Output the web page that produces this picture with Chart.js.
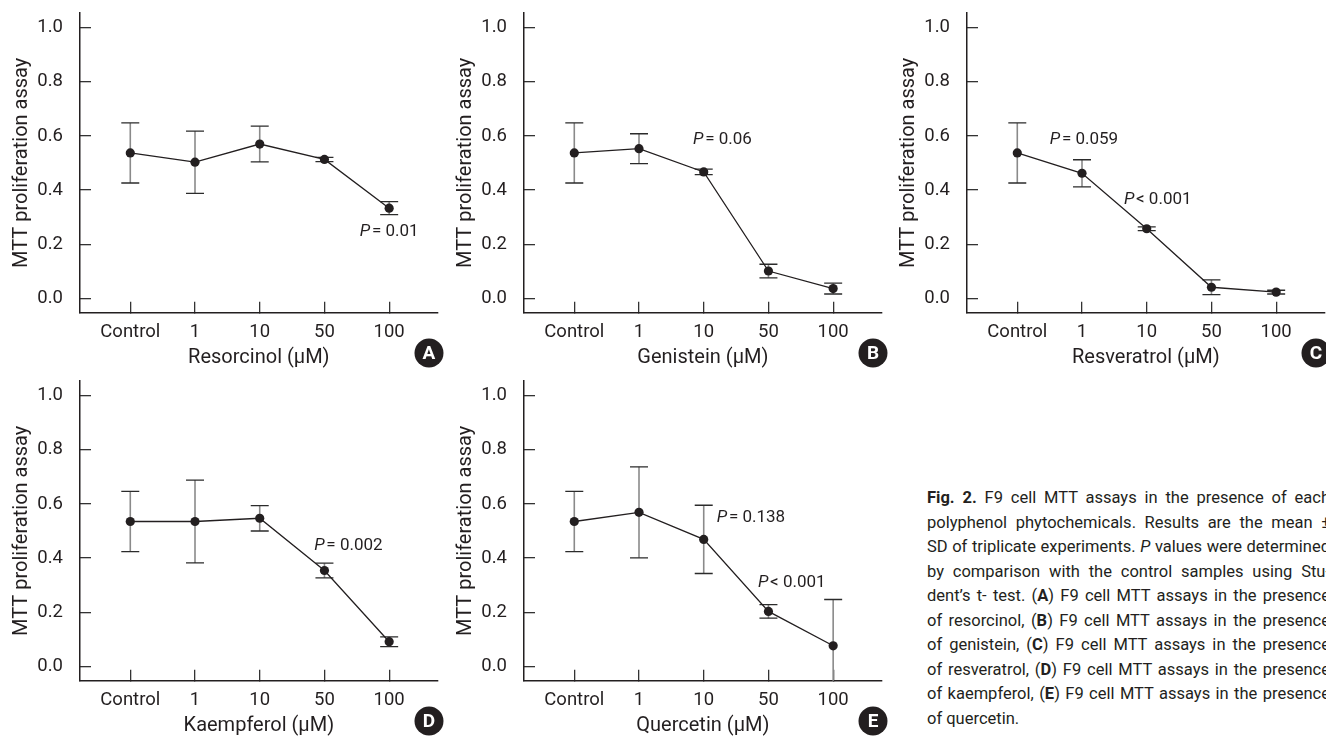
<!DOCTYPE html>
<html>
<head>
<meta charset="utf-8">
<script src="https://cdn.jsdelivr.net/npm/chart.js@4.4.0/dist/chart.umd.min.js"></script>
<style>
  html, body { margin: 0; padding: 0; background: #ffffff; overflow: hidden; width: 1326px; height: 738px; }
  .panel { position: absolute; }
  #caption { position: absolute; left: 927px; top: 486px; width: 403px; font-family: Roboto, sans-serif; font-size: 16.5px; line-height: 24.5px; color: #231f20; }
  #caption .ln { display: block; white-space: nowrap; text-align: justify; text-align-last: justify; }
  #caption .last { text-align: left; text-align-last: left; }
</style>
</head>
<body>
<div id="charts"></div>
<div id="caption">
  <span class="ln"><b>Fig. 2.</b> F9 cell MTT assays in the presence of each</span>
  <span class="ln">polyphenol phytochemicals. Results are the mean ±</span>
  <span class="ln">SD of triplicate experiments. <i>P</i> values were determined</span>
  <span class="ln">by comparison with the control samples using Stu-</span>
  <span class="ln">dent’s t- test. (<b>A</b>) F9 cell MTT assays in the presence</span>
  <span class="ln">of resorcinol, (<b>B</b>) F9 cell MTT assays in the presence</span>
  <span class="ln">of genistein, (<b>C</b>) F9 cell MTT assays in the presence</span>
  <span class="ln">of resveratrol, (<b>D</b>) F9 cell MTT assays in the presence</span>
  <span class="ln">of kaempferol, (<b>E</b>) F9 cell MTT assays in the presence</span>
  <span class="ln last">of quercetin.</span>
</div>
<script>
// ---------------- data ----------------
const categories = ['Control', '1', '10', '50', '100'];
const yTickValues = [0.0, 0.2, 0.4, 0.6, 0.8, 1.0];
const yAxisTitle = 'MTT proliferation assay';

const resorcinolMean  = [0.537, 0.503, 0.570, 0.513, 0.333];
const resorcinolSD    = [0.111, 0.115, 0.066, 0.008, 0.024];
const genisteinMean   = [0.537, 0.553, 0.467, 0.101, 0.036];
const genisteinSD     = [0.111, 0.055, 0.010, 0.025, 0.020];
const resveratrolMean = [0.537, 0.462, 0.257, 0.041, 0.023];
const resveratrolSD   = [0.111, 0.050, 0.007, 0.027, 0.007];
const kaempferolMean  = [0.535, 0.535, 0.547, 0.354, 0.091];
const kaempferolSD    = [0.111, 0.153, 0.047, 0.027, 0.018];
const quercetinMean   = [0.535, 0.569, 0.469, 0.203, 0.076];
const quercetinSD     = [0.111, 0.168, 0.126, 0.025, 0.171];

const resorcinolNotes  = [{ rel: '=', p: '0.01' }];
const genisteinNotes   = [{ rel: '=', p: '0.06' }];
const resveratrolNotes = [{ rel: '=', p: '0.059' }, { rel: '<', p: '0.001' }];
const kaempferolNotes  = [{ rel: '=', p: '0.002' }];
const quercetinNotes   = [{ rel: '=', p: '0.138' }, { rel: '<', p: '0.001' }];

// ---------------- layout ----------------
const INK = '#231f20';
const FONT = 'Roboto, "Liberation Sans", sans-serif';
const notePlace = {
  A: [[4.0, 0.245]],
  B: [[2.29, 0.584]],
  C: [[1.03, 0.584], [2.17, 0.366]],
  D: [[3.37, 0.446]],
  E: [[2.73, 0.55], [3.36, 0.31]]
};
const panels = [
  { badge: 'A', title: 'Resorcinol (μM)',  mean: resorcinolMean,  sd: resorcinolSD,  notes: resorcinolNotes,  left: 0,   top: 0 },
  { badge: 'B', title: 'Genistein (μM)',   mean: genisteinMean,   sd: genisteinSD,   notes: genisteinNotes,   left: 444, top: 0 },
  { badge: 'C', title: 'Resveratrol (μM)', mean: resveratrolMean, sd: resveratrolSD, notes: resveratrolNotes, left: 887, top: 0 },
  { badge: 'D', title: 'Kaempferol (μM)',  mean: kaempferolMean,  sd: kaempferolSD,  notes: kaempferolNotes,  left: 0,   top: 368 },
  { badge: 'E', title: 'Quercetin (μM)',   mean: quercetinMean,   sd: quercetinSD,   notes: quercetinNotes,   left: 444, top: 368 }
];

const W = 444, H = 370;

function zeroPad(s) { s.paddingTop = 0; s.paddingBottom = 0; s.paddingLeft = 0; s.paddingRight = 0; }

const errorBars = {
  id: 'errorBars',
  beforeDatasetsDraw(chart) {
    const { ctx, chartArea: a, scales: { x, y } } = chart;
    const ds = chart.data.datasets[0];
    ctx.save();
    ctx.beginPath();
    ctx.rect(a.left, a.top, a.right - a.left, a.bottom - a.top);
    ctx.clip();
    ds.data.forEach((pt, i) => {
      const s = ds.sd[i];
      const px = x.getPixelForValue(pt.x);
      const yt = y.getPixelForValue(pt.y + s);
      const yb = y.getPixelForValue(pt.y - s);
      ctx.strokeStyle = '#8a8a8a';
      ctx.lineWidth = 1.6;
      ctx.beginPath(); ctx.moveTo(px, yt); ctx.lineTo(px, yb); ctx.stroke();
      ctx.strokeStyle = '#2b2b2b';
      ctx.lineWidth = 1.3;
      ctx.beginPath();
      ctx.moveTo(px - 9, yt); ctx.lineTo(px + 9, yt);
      ctx.moveTo(px - 9, yb); ctx.lineTo(px + 9, yb);
      ctx.stroke();
    });
    ctx.restore();
  }
};

const extras = {
  id: 'extras',
  afterDraw(chart, args, opts) {
    const { ctx, scales: { x, y } } = chart;
    ctx.save();
    ctx.fillStyle = INK;
    ctx.textBaseline = 'middle';
    ctx.textAlign = 'left';
    opts.notes.forEach((n, k) => {
      const [nx, ny] = opts.place[k];
      const cx = x.getPixelForValue(nx), cy = y.getPixelForValue(ny);
      ctx.font = 'italic 17px ' + FONT;
      const wP = ctx.measureText('P').width;
      const rest = '\u200a' + n.rel + ' ' + n.p;
      ctx.font = '17px ' + FONT;
      const wR = ctx.measureText(rest).width;
      const sx = cx - (wP + wR) / 2;
      ctx.font = 'italic 17px ' + FONT;
      ctx.fillText('P', sx, cy);
      ctx.font = '17px ' + FONT;
      ctx.fillText(rest, sx + wP, cy);
    });
    ctx.beginPath();
    ctx.arc(429, 353, 14.5, 0, Math.PI * 2);
    ctx.fillStyle = INK;
    ctx.fill();
    ctx.fillStyle = '#ffffff';
    ctx.font = 'bold 19px ' + FONT;
    ctx.textAlign = 'center';
    ctx.textBaseline = 'middle';
    ctx.fillText(opts.badge, 429, 354);
    ctx.restore();
  }
};

const holder = document.getElementById('charts');
panels.forEach(p => {
  const div = document.createElement('div');
  div.className = 'panel';
  div.style.left = p.left + 'px';
  div.style.top = p.top + 'px';
  div.style.width = W + 'px';
  div.style.height = H + 'px';
  const cv = document.createElement('canvas');
  cv.width = W; cv.height = H;
  cv.style.width = W + 'px'; cv.style.height = H + 'px';
  div.appendChild(cv);
  holder.appendChild(div);

  new Chart(cv, {
    type: 'line',
    data: {
      datasets: [{
        data: p.mean.map((v, i) => ({ x: i, y: v })),
        sd: p.sd,
        borderColor: INK,
        borderWidth: 1.3,
        pointRadius: 4.6,
        pointHoverRadius: 4.6,
        pointBackgroundColor: INK,
        pointBorderWidth: 0,
        tension: 0,
        fill: false
      }]
    },
    options: {
      responsive: false,
      animation: false,
      devicePixelRatio: 1,
      events: [],
      layout: { autoPadding: false, padding: { left: 0, top: 13, right: 6.3, bottom: 0 } },
      plugins: {
        legend: { display: false },
        tooltip: { enabled: false },
        extras: { notes: p.notes, place: notePlace[p.badge], badge: p.badge }
      },
      scales: {
        x: {
          type: 'linear',
          min: -0.777,
          max: 4.75,
          afterBuildTicks: s => { s.ticks = categories.map((c, i) => ({ value: i })); },
          afterFit: s => { s.height = 57.3; zeroPad(s); },
          ticks: {
            callback: v => categories[v],
            font: { family: FONT, size: 18.5 },
            color: INK,
            padding: 20,
            maxRotation: 0,
            autoSkip: false
          },
          grid: { drawOnChartArea: false, drawTicks: true, tickLength: -11, color: '#333', lineWidth: 1.3 },
          border: { color: INK, width: 1.5 },
          title: { display: true, text: p.title, font: { family: FONT, size: 20 }, color: INK, padding: { top: 0, bottom: 0 } }
        },
        y: {
          type: 'linear',
          min: -0.053,
          max: 1.054,
          afterBuildTicks: s => { s.ticks = yTickValues.map(v => ({ value: v })); },
          afterFit: s => { s.width = 80; zeroPad(s); },
          ticks: {
            callback: v => Number(v).toFixed(1),
            font: { family: FONT, size: 18.5 },
            color: INK,
            padding: 28
          },
          grid: { drawOnChartArea: false, drawTicks: true, tickLength: -11, color: '#333', lineWidth: 1.3 },
          border: { color: INK, width: 1.5 },
          title: { display: true, text: yAxisTitle, font: { family: FONT, size: 20 }, color: INK, padding: { top: 10, bottom: 0 } }
        }
      }
    },
    plugins: [errorBars, extras]
  });
});
</script>
</body>
</html>
